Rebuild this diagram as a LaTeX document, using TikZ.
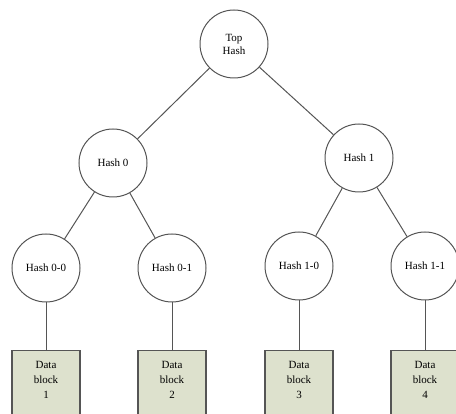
\documentclass[tikz,border=0pt]{standalone}
\usepackage{fontspec}
\setmainfont{Liberation Serif}
\definecolor{boxfill}{RGB}{221,225,205}
\definecolor{edgegray}{RGB}{85,85,85}
\begin{document}
\begin{tikzpicture}[x=1pt,y=-1pt,
  hashnode/.style={circle,draw=edgegray,line width=1pt,fill=white,minimum size=68pt,inner sep=0pt,font=\fontsize{11}{13}\selectfont,align=center},
  datanode/.style={rectangle,draw=edgegray,line width=1.2pt,fill=boxfill,minimum width=68pt,minimum height=66pt,inner sep=0pt,anchor=north,
    label={[font=\fontsize{11}{15}\selectfont,align=center,anchor=north,yshift=-8pt]north:#1}},
  link/.style={draw=edgegray,line width=1pt}]
\useasboundingbox (0,0) rectangle (456,414);
\node[hashnode] (top) at (234,44) {Top\\Hash};
\node[hashnode] (h0) at (113,163) {Hash 0};
\node[hashnode] (h1) at (359,158) {Hash 1};
\node[hashnode] (h00) at (46,268) {Hash 0-0};
\node[hashnode] (h01) at (172,268) {Hash 0-1};
\node[hashnode] (h10) at (299,266) {Hash 1-0};
\node[hashnode] (h11) at (425,266) {Hash 1-1};
\node[datanode={Data\\block\\1}] (d1) at (46,350) {};
\node[datanode={Data\\block\\2}] (d2) at (172,350) {};
\node[datanode={Data\\block\\3}] (d3) at (299,350) {};
\node[datanode={Data\\block\\4}] (d4) at (425,350) {};
\draw[link] (top) -- (h0);
\draw[link] (top) -- (h1);
\draw[link] (h0) -- (h00);
\draw[link] (h0) -- (h01);
\draw[link] (h1) -- (h10);
\draw[link] (h1) -- (h11);
\draw[link] (h00) -- (d1);
\draw[link] (h01) -- (d2);
\draw[link] (h10) -- (d3);
\draw[link] (h11) -- (d4);
\end{tikzpicture}
\end{document}
